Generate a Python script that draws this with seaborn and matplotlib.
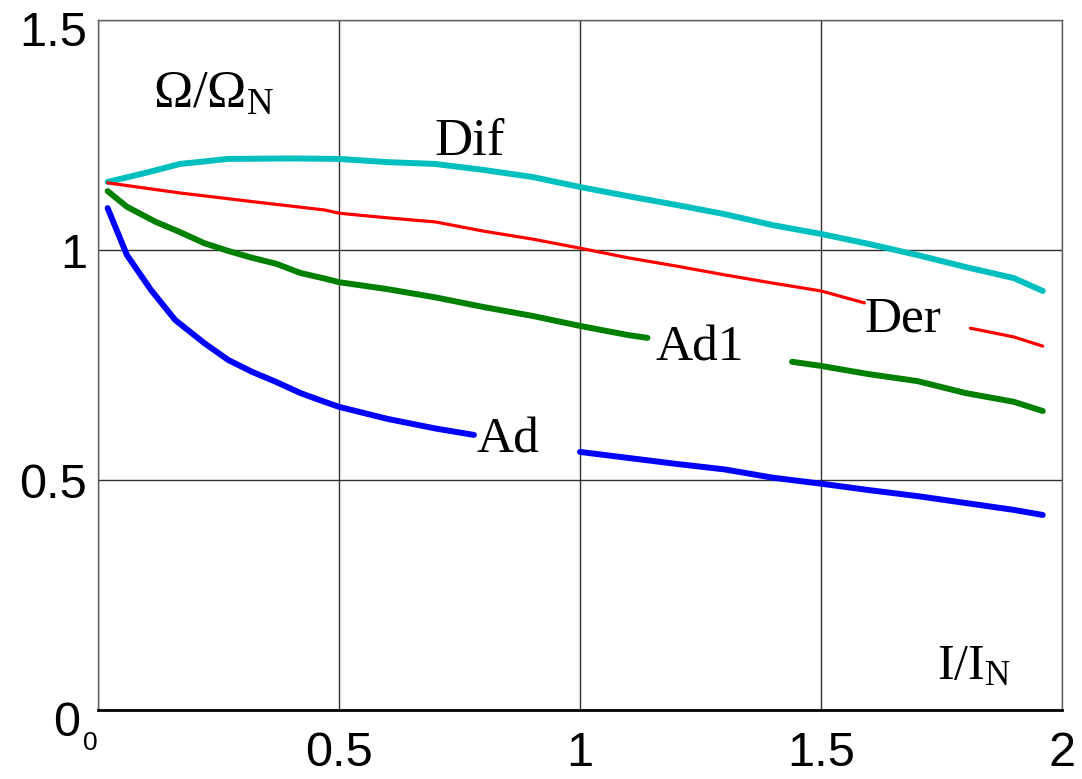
import numpy as np
import pandas as pd
import matplotlib
matplotlib.use("Agg")
import matplotlib.pyplot as plt
import matplotlib.transforms as mtransforms
import seaborn as sns

# --- DATA (NaN marks a gap left for a label) ---
dif_x = [0.02, 0.1, 0.17, 0.27, 0.4, 0.5, 0.6, 0.7, 0.8, 0.9, 1.0, 1.1, 1.2, 1.3, 1.4, 1.5, 1.6, 1.7, 1.8, 1.9, 1.96]
dif_y = [1.148, 1.168, 1.187, 1.198, 1.199, 1.198, 1.191, 1.187, 1.174, 1.159, 1.137, 1.117, 1.098, 1.078, 1.054, 1.035, 1.013, 0.989, 0.963, 0.939, 0.911]

der_x = [0.02, 0.17, 0.33, 0.47, 0.5, 0.6, 0.7, 0.8, 0.9, 1.0, 1.1, 1.2, 1.3, 1.4, 1.5, 1.59, np.nan, 1.81, 1.9, 1.96]
der_y = [1.146, 1.124, 1.104, 1.087, 1.08, 1.07, 1.061, 1.041, 1.024, 1.004, 0.983, 0.965, 0.946, 0.928, 0.911, 0.885, np.nan, 0.830, 0.811, 0.791]

ad1_x = [0.02, 0.06, 0.12, 0.17, 0.22, 0.27, 0.32, 0.37, 0.42, 0.47, 0.5, 0.6, 0.7, 0.8, 0.9, 1.0, 1.1, 1.14, np.nan, 1.44, 1.5, 1.6, 1.7, 1.8, 1.9, 1.96]
ad1_y = [1.128, 1.094, 1.061, 1.039, 1.015, 0.998, 0.983, 0.970, 0.950, 0.938, 0.930, 0.915, 0.897, 0.876, 0.857, 0.835, 0.815, 0.809, np.nan, 0.757, 0.748, 0.730, 0.715, 0.689, 0.670, 0.650]

ad_x = [0.02, 0.06, 0.11, 0.16, 0.22, 0.27, 0.32, 0.37, 0.42, 0.47, 0.5, 0.6, 0.7, 0.78, np.nan, 1.0, 1.1, 1.2, 1.3, 1.4, 1.5, 1.6, 1.7, 1.8, 1.9, 1.96]
ad_y = [1.091, 0.989, 0.913, 0.848, 0.798, 0.761, 0.735, 0.713, 0.689, 0.670, 0.659, 0.633, 0.612, 0.598, np.nan, 0.561, 0.548, 0.535, 0.523, 0.505, 0.492, 0.478, 0.465, 0.45, 0.435, 0.424]

curves = {"Dif": (dif_x, dif_y), "Der": (der_x, der_y), "Ad1": (ad1_x, ad1_y), "Ad": (ad_x, ad_y)}

x_ticks = [0, 0.5, 1, 1.5, 2]
x_ticklabels = ["0", "0.5", "1", "1.5", "2"]
y_ticks = [0, 0.5, 1, 1.5]
y_ticklabels = ["0", "0.5", "1", "1.5"]

colors = {"Dif": "#00BFBF", "Der": "#FF0000", "Ad1": "#008000", "Ad": "#0000FF"}
widths = {"Dif": 4.3, "Der": 2.3, "Ad1": 4.3, "Ad": 4.3}


def build_frame():
    rows = []
    for name, (xs, ys) in curves.items():
        seg = 0
        for x, y in zip(xs, ys):
            if np.isnan(x):
                seg += 1
                continue
            rows.append({"I": x, "W": y, "curve": name, "seg": f"{name}-{seg}"})
    return pd.DataFrame(rows)


df = build_frame()

sns.set_style("white")
plt.rcParams["font.family"] = ["Liberation Sans", "DejaVu Sans"]
plt.rcParams["mathtext.fontset"] = "custom"
plt.rcParams["mathtext.rm"] = "Liberation Serif"
plt.rcParams["text.color"] = "black"
plt.rcParams["xtick.color"] = "black"
plt.rcParams["ytick.color"] = "black"

fig = plt.figure(figsize=(10.82, 7.79), dpi=100)
ax = fig.add_axes([98 / 1082, 1 - 710 / 779, (1062 - 98) / 1082, (710 - 20) / 779])

sns.lineplot(data=df, x="I", y="W", hue="curve", size="curve", units="seg",
             estimator=None, palette=colors, sizes=widths, sort=False,
             legend=False, ax=ax, zorder=3)

ax.set_xlim(0, 2)
ax.set_ylim(0, 1.5)
ax.set_xticks(x_ticks)
ax.set_xticklabels(x_ticklabels)
ax.set_yticks(y_ticks)
ax.set_yticklabels(y_ticklabels)
ax.set_xlabel("")
ax.set_ylabel("")
ax.tick_params(axis="both", length=0, labelsize=35, colors="black")
ax.tick_params(axis="x", pad=15)
ax.tick_params(axis="y", pad=8)

# the small 0 under the origin
lab0 = ax.get_xticklabels()[0]
lab0.set_fontsize(19)
lab0.set_horizontalalignment("right")

# end labels of the y axis sit a bit lower in the reference, the 0 a bit left
ylabs = ax.get_yticklabels()
down = mtransforms.ScaledTranslation(0, -8 / 100, fig.dpi_scale_trans)
ylabs[-1].set_transform(ylabs[-1].get_transform() + down)
down_left = mtransforms.ScaledTranslation(-7 / 100, -8 / 100, fig.dpi_scale_trans)
ylabs[0].set_transform(ylabs[0].get_transform() + down_left)

ax.grid(True, color="#303030", linewidth=1.0)
for side in ["left", "right", "top"]:
    ax.spines[side].set_color("#606060")
    ax.spines[side].set_linewidth(1.0)
ax.spines["bottom"].set_color("black")
ax.spines["bottom"].set_linewidth(2.0)

serif = ["Liberation Serif", "DejaVu Serif"]
ax.text(0.114, 1.309, r"$\mathrm{\Omega/\Omega_N}$", fontsize=38, family=serif, va="baseline", color="black")
ax.text(0.699, 1.207, "Dif", fontsize=38, family=serif, va="baseline", color="black")
ax.text(1.591, 0.822, "Der", fontsize=37, family=serif, va="baseline", color="black")
ax.text(1.156, 0.760, "Ad1", fontsize=37, family=serif, va="baseline", color="black")
ax.text(0.786, 0.559, "Ad", fontsize=37, family=serif, va="baseline", color="black")
ax.text(1.741, 0.067, r"$\mathrm{I/I_N}$", fontsize=36, family=serif, va="baseline", color="black")

fig.savefig("out.png", dpi=100)
